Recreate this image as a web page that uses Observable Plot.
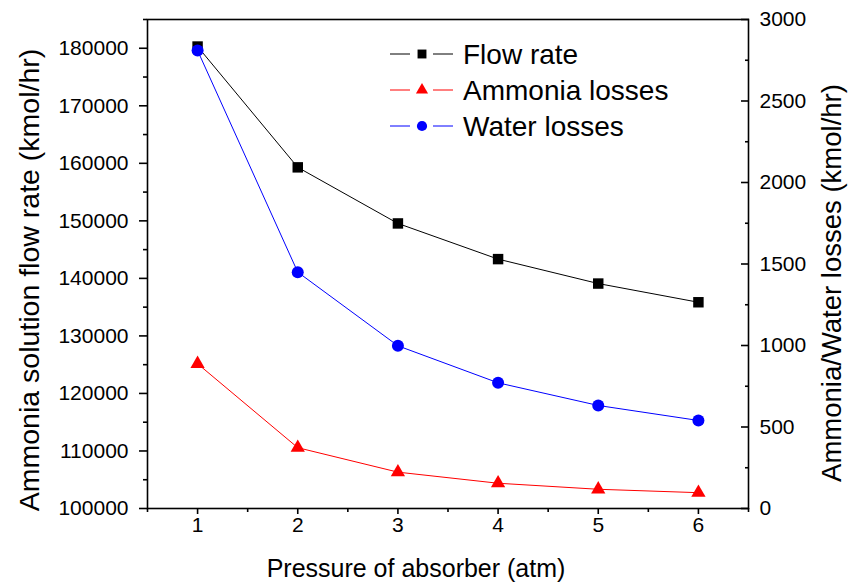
<!DOCTYPE html>
<html><head><meta charset="utf-8">
<script src="https://cdn.jsdelivr.net/npm/d3@7"></script>
<script src="https://cdn.jsdelivr.net/npm/@observablehq/plot@0.6"></script>
<style>body{margin:0;background:#fff;} svg{overflow:visible;display:block}</style>
</head><body><div id="chart"></div>
<script>
// ---- data ----
const pressure = [1, 2, 3, 4, 5, 6];
const flowRate = [180300, 159300, 149550, 143350, 139100, 135850];
const ammoniaLosses = [888, 373, 223, 155, 118, 97];
const waterLosses = [2810, 1450, 998, 771, 632, 540];

const seriesNames = ["Flow rate", "Ammonia losses", "Water losses"];
const seriesColors = ["#000000", "#ff0000", "#0000ff"];
const seriesSymbols = ["square", "triangle", "circle"];

const xTicks = [1, 2, 3, 4, 5, 6];
const xMinorTicks = [0.5, 1.5, 2.5, 3.5, 4.5, 5.5, 6.5];
const leftTicks = [100000, 110000, 120000, 130000, 140000, 150000, 160000, 170000, 180000];
const leftMinorTicks = [105000, 115000, 125000, 135000, 145000, 155000, 165000, 175000, 185000];
const rightTicks = [0, 500, 1000, 1500, 2000, 2500, 3000];
const rightMinorTicks = [250, 750, 1250, 1750, 2250, 2750];

const xDomain = [0.5, 6.5];
const leftDomain = [100000, 185000];
const rightDomain = [0, 3000];

const xTitle = "Pressure of absorber (atm)";
const leftTitle = "Ammonia solution flow rate (kmol/hr)";
const rightTitle = "Ammonia/Water losses (kmol/hr)";

// map right-axis values onto the left scale
const k = (leftDomain[1] - leftDomain[0]) / (rightDomain[1] - rightDomain[0]);
const toLeft = v => leftDomain[0] + (v - rightDomain[0]) * k;
const fromLeft = d => Math.round(rightDomain[0] + (d - leftDomain[0]) / k);

const flowData = pressure.map((p, i) => ({p, v: flowRate[i]}));
const ammData = pressure.map((p, i) => ({p, v: toLeft(ammoniaLosses[i])}));
const watData = pressure.map((p, i) => ({p, v: toLeft(waterLosses[i])}));
const allSeries = [flowData, ammData, watData];

const font = "'Liberation Sans', Arial, Helvetica, sans-serif";
const symR = {square: 5.9, triangle: 5.3, circle: 6};

const marks = [
  Plot.frame({stroke: "black", strokeWidth: 1.6}),
  Plot.axisX(xTicks, {tickSize: 6, tickPadding: 3, label: null, strokeWidth: 1.6, tickFormat: d => String(d)}),
  Plot.axisX(xMinorTicks, {tickSize: 4, label: null, strokeWidth: 1.6, tickFormat: () => ""}),
  Plot.axisY(leftTicks, {tickSize: 8, tickPadding: 11, label: null, strokeWidth: 1.6, tickFormat: d => String(d)}),
  Plot.axisY(leftMinorTicks, {tickSize: 4, label: null, strokeWidth: 1.6, tickFormat: () => ""}),
  Plot.axisY(rightTicks.map(toLeft), {anchor: "right", tickSize: -8, tickPadding: 19, label: null, strokeWidth: 1.6, tickFormat: d => String(fromLeft(d))}),
  Plot.axisY(rightMinorTicks.map(toLeft), {anchor: "right", tickSize: -4, label: null, strokeWidth: 1.6, tickFormat: () => ""})
];
allSeries.forEach((data, i) => {
  marks.push(Plot.line(data, {x: "p", y: "v", stroke: seriesColors[i], strokeWidth: 1}));
});
allSeries.forEach((data, i) => {
  marks.push(Plot.dot(data, {x: "p", y: "v", symbol: seriesSymbols[i], r: symR[seriesSymbols[i]], fill: seriesColors[i], stroke: "none"}));
});

const svgEl = Plot.plot({
  width: 848, height: 583,
  marginLeft: 147, marginRight: 100, marginTop: 19, marginBottom: 75,
  style: {fontFamily: font, fontSize: "21px", color: "black", background: "white"},
  x: {domain: xDomain, label: null},
  y: {domain: leftDomain, label: null},
  marks
});
document.getElementById("chart").appendChild(svgEl);

const svg = d3.select(svgEl);
// axis titles
svg.append("text").attr("transform", "translate(39,280) rotate(-90)")
  .attr("text-anchor", "middle").attr("font-size", 28.5).attr("font-family", font).attr("fill", "black").text(leftTitle);
svg.append("text").attr("transform", "translate(841,283) rotate(-90)")
  .attr("text-anchor", "middle").attr("font-size", 27.5).attr("font-family", font).attr("fill", "black").text(rightTitle);
svg.append("text").attr("x", 416).attr("y", 577)
  .attr("text-anchor", "middle").attr("font-size", 25).attr("font-family", font).attr("fill", "black").text(xTitle);

// legend
const symMap = {square: d3.symbolSquare, triangle: d3.symbolTriangle, circle: d3.symbolCircle};
const rowsY = [54, 90, 126];
const lg = svg.append("g");
seriesNames.forEach((name, i) => {
  const y = rowsY[i];
  lg.append("line").attr("x1", 390).attr("x2", 410).attr("y1", y).attr("y2", y).attr("stroke", seriesColors[i]).attr("stroke-width", 1);
  lg.append("line").attr("x1", 433).attr("x2", 453).attr("y1", y).attr("y2", y).attr("stroke", seriesColors[i]).attr("stroke-width", 1);
  const r = symR[seriesSymbols[i]] * 0.85;
  lg.append("path").attr("transform", `translate(422,${y})`)
    .attr("d", d3.symbol(symMap[seriesSymbols[i]], Math.PI * r * r)()).attr("fill", seriesColors[i]);
  lg.append("text").attr("x", 463).attr("y", y + 10).attr("text-anchor", "start")
    .attr("font-size", 28).attr("font-family", font).attr("fill", "black").text(name);
});
</script>
</body></html>
